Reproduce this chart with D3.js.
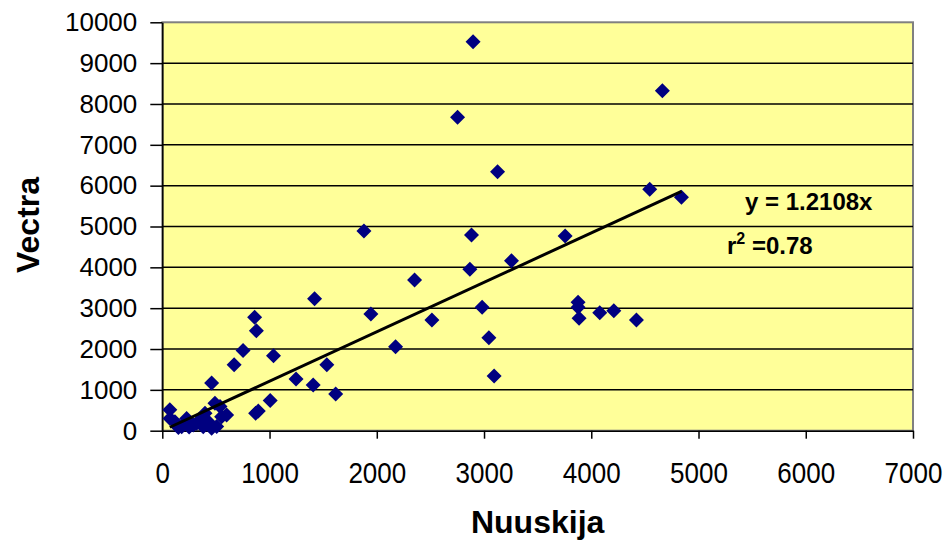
<!DOCTYPE html>
<html>
<head>
<meta charset="utf-8">
<script src="https://cdn.jsdelivr.net/npm/d3@7"></script>
<style>
  body { margin: 0; background: #fff; }
  text { font-family: "Liberation Sans", Arial, sans-serif; }
</style>
</head>
<body>
<div id="chart"></div>
<script>
// Nuuskija (x) vs Vectra (y)
var nuuskija = [2898, 4663, 2753, 3126, 4545, 4841, 1880, 2883, 3756, 3256,
                2868, 2352, 1420, 3877, 3877, 3886, 4079, 4210, 4421, 2982,
                1945, 2514, 861, 877, 3045, 2175, 753, 1037, 670, 1534,
                3094, 1247, 460, 1407, 1617, 1006, 870, 895,
                70, 72, 118, 181, 150, 227, 289, 320, 382, 398,
                429, 460, 491, 507, 538, 553, 600, 250, 350];
var vectra = [9525, 8325, 7674, 6342, 5911, 5715, 4890, 4792, 4767, 4163,
              3952, 3690, 3230, 3144, 3021, 2752, 2890, 2938, 2711, 3021,
              2857, 2711, 2780, 2445, 2277, 2057, 1963, 1834, 1614, 1614,
              1339, 1263, 1166, 1117, 897, 741, 430, 480,
              510, 300, 220, 98, 80, 300, 140, 180, 98, 430,
              220, 60, 670, 100, 590, 340, 384, 90, 250];

var xTicks = [0, 1000, 2000, 3000, 4000, 5000, 6000, 7000];
var yTicks = [0, 1000, 2000, 3000, 4000, 5000, 6000, 7000, 8000, 9000, 10000];
var slope = 1.2108;
var r2 = "0.78";
var xTitle = "Nuuskija";
var yTitle = "Vectra";

var w = 948, h = 541;
var plotL = 162.3, plotR = 913, plotT = 22.3, plotB = 430.7;

const svg = d3.select("#chart")
              .append("svg")
              .attr("width", w)
              .attr("height", h);

var xScale = d3.scaleLinear()
               .domain([0, 7000])
               .range([plotL, plotR]);

var yScale = d3.scaleLinear()
               .domain([0, 10000])
               .range([plotB, plotT]);

// plot background + grey frame
svg.append("rect")
   .attr("x", plotL).attr("y", plotT)
   .attr("width", plotR - plotL).attr("height", plotB - plotT)
   .attr("fill", "#ffff99")
   .attr("stroke", "#808080")
   .attr("stroke-width", 2);

// horizontal gridlines
svg.append("g")
   .selectAll("line")
   .data(yTicks.filter(function(d) { return d > 0 && d < 10000; }))
   .join("line")
   .attr("x1", plotL).attr("x2", plotR)
   .attr("y1", function(d) { return yScale(d); })
   .attr("y2", function(d) { return yScale(d); })
   .attr("stroke", "#000")
   .attr("stroke-width", 1.5);

// axes
var yAxis = d3.axisLeft(yScale)
              .tickValues(yTicks)
              .tickSize(12)
              .tickPadding(13)
              .tickSizeOuter(0)
              .tickFormat(d3.format("d"));

var xAxis = d3.axisBottom(xScale)
              .tickValues(xTicks)
              .tickSize(8)
              .tickPadding(22)
              .tickSizeOuter(0)
              .tickFormat(d3.format("d"));

var gy = svg.append("g")
            .attr("transform", "translate(" + plotL + ",0)")
            .call(yAxis);

var gx = svg.append("g")
            .attr("transform", "translate(0," + plotB + ")")
            .call(xAxis);

[gx, gy].forEach(function(g) {
  g.select(".domain").attr("stroke", "#000").attr("stroke-width", 1.5);
  g.selectAll(".tick line").attr("stroke", "#000").attr("stroke-width", 1.5);
  g.selectAll(".tick text")
   .attr("fill", "#000")
   .style("font-family", "'Liberation Sans', Arial, sans-serif");
});
gy.selectAll(".tick text").style("font-size", "26px");
// x labels in the original are a bit taller than wide
gx.selectAll(".tick text")
  .style("font-size", "26px")
  .attr("dy", 0)
  .attr("y", 52 / 1.13)
  .attr("transform", "scale(1,1.13)");

// points (square diamonds)
var r = 7.5;
svg.append("g")
   .selectAll("path")
   .data(nuuskija.map(function(x, i) { return [x, vectra[i]]; }))
   .join("path")
   .attr("d", function(d) {
     var cx = xScale(d[0]), cy = yScale(d[1]);
     return "M" + cx + "," + (cy - r) + "L" + (cx + r) + "," + cy +
            "L" + cx + "," + (cy + r) + "L" + (cx - r) + "," + cy + "Z";
   })
   .attr("fill", "#000080");

// trend line through origin, over the data's x range
var xExt = d3.extent(nuuskija);
svg.append("path")
   .datum(xExt)
   .attr("fill", "none")
   .attr("stroke", "#000")
   .attr("stroke-width", 3)
   .attr("d", d3.line()
     .x(function(d) { return xScale(d); })
     .y(function(d) { return yScale(slope * d); })
   );

// equation labels
svg.append("text")
   .attr("x", 745).attr("y", 210)
   .style("font-size", "24px").style("font-weight", "bold")
   .text("y = " + slope + "x");

var rt = svg.append("text")
   .attr("x", 727).attr("y", 254)
   .style("font-size", "24px").style("font-weight", "bold");
rt.append("tspan").text("r");
rt.append("tspan").attr("dy", -10).style("font-size", "16px").text("2");
rt.append("tspan").attr("dy", 10).text(" =" + r2);

// axis titles
svg.append("text")
   .attr("x", (plotL + plotR) / 2).attr("y", 533)
   .attr("text-anchor", "middle")
   .style("font-size", "32px").style("font-weight", "bold")
   .text(xTitle);

svg.append("text")
   .attr("transform", "translate(39,225) rotate(-90)")
   .attr("text-anchor", "middle")
   .style("font-size", "32px").style("font-weight", "bold")
   .text(yTitle);
</script>
</body>
</html>
